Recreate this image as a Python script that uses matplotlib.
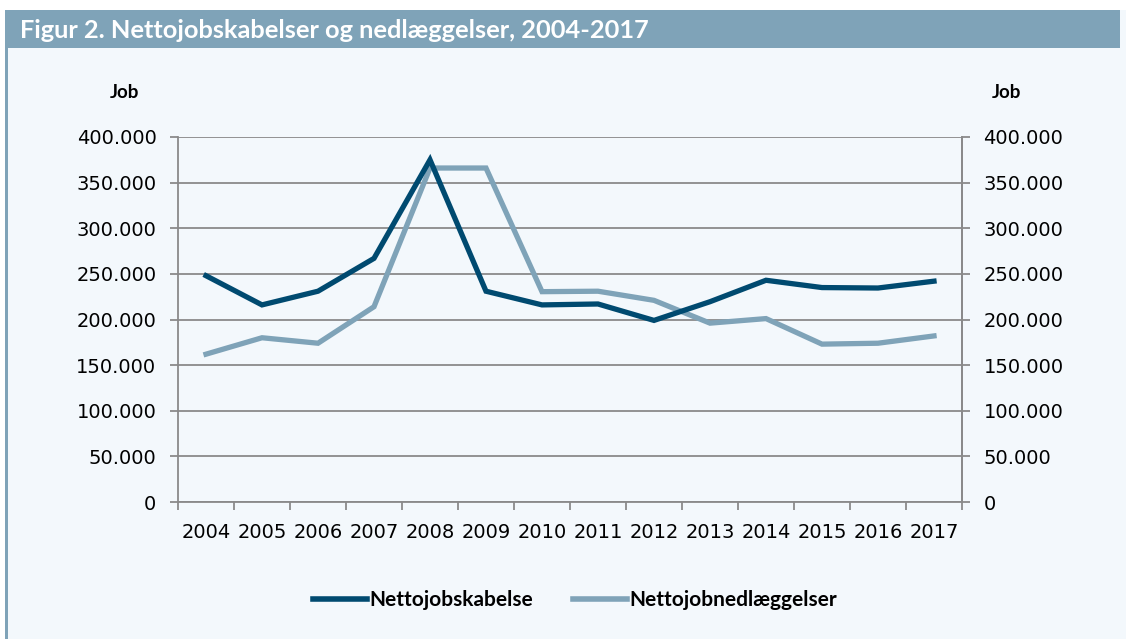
import numpy as np
import matplotlib.pyplot as plt
from matplotlib.patches import Rectangle
from matplotlib.lines import Line2D

years = ['2004', '2005', '2006', '2007', '2008', '2009', '2010',
         '2011', '2012', '2013', '2014', '2015', '2016', '2017']
skabelse = [248000, 216000, 231000, 267000, 375000, 231000, 216000,
            217000, 199000, 219500, 243000, 235000, 234500, 242000]
nedlaeggelser = [162000, 180000, 174000, 214000, 366000, 366000, 230500,
                 231000, 221000, 196000, 201000, 173000, 174000, 182000]
yticks = [0, 50000, 100000, 150000, 200000, 250000, 300000, 350000, 400000]
ytick_labels = ['0', '50.000', '100.000', '150.000', '200.000', '250.000',
                '300.000', '350.000', '400.000']

dark = '#004a70'
light = '#7fa3b8'
bg = '#f3f8fc'
grid = '#8a8a8a'

plt.rcParams['font.family'] = ['Lato', 'DejaVu Sans']
tick_font = 'DejaVu Sans'

fig = plt.figure(figsize=(11.26, 6.39), dpi=100)
fig.patch.set_facecolor('white')

# panel background, title bar and left border (behind the axes)
fig.patches.append(Rectangle((5 / 1126, 0), 1 - 5 / 1126, 1 - 10 / 639,
                             transform=fig.transFigure, facecolor=bg,
                             edgecolor='none', zorder=-10))
fig.patches.append(Rectangle((5 / 1126, 1 - 48 / 639), 1 - 11 / 1126, 38 / 639,
                             transform=fig.transFigure, facecolor=light,
                             edgecolor='none', zorder=-9))
fig.patches.append(Rectangle((5 / 1126, 0), 3 / 1126, 1 - 48 / 639,
                             transform=fig.transFigure, facecolor=light,
                             edgecolor='none', zorder=-9))
fig.text(20 / 1126, 1 - 30 / 639, 'Figur 2. Nettojobskabelser og nedlæggelser, 2004-2017',
         color='white', fontsize=18.3, fontweight='bold', va='center', ha='left')

ax = fig.add_axes([178 / 1126, 1 - 502 / 639, 784 / 1126, 365 / 639])
ax.set_facecolor('none')
x = np.arange(len(years))
ax.plot(x, skabelse, color=dark, lw=3.8, solid_joinstyle='miter', zorder=3)
ax.plot(x, nedlaeggelser, color=light, lw=3.8, solid_joinstyle='miter', zorder=2)

ax.set_xlim(-0.5, len(years) - 0.5)
ax.set_ylim(0, 400000)
ax.set_yticks(yticks)
ax.set_yticklabels(ytick_labels, family=tick_font)
ax.set_xticks(x)
ax.set_xticklabels(years, family=tick_font)
ax.set_xticks(np.arange(-0.5, len(years)), minor=True)
ax.tick_params(axis='x', which='major', length=0, pad=15, labelsize=14)
ax.tick_params(axis='x', which='minor', length=6, color=grid, width=1.3)
ax.tick_params(axis='y', length=6, color=grid, width=1.3, labelsize=14, pad=9.5)
ax.yaxis.grid(True, color=grid, lw=1.3)
ax.set_axisbelow(True)
ax.spines['top'].set_visible(False)
for s in ['left', 'right', 'bottom']:
    ax.spines[s].set_color(grid)
    ax.spines[s].set_linewidth(1.3)

ax2 = ax.twinx()
ax2.set_ylim(0, 400000)
ax2.set_yticks(yticks)
ax2.set_yticklabels(ytick_labels, family=tick_font)
ax2.tick_params(axis='y', length=6, color=grid, width=1.3, labelsize=14, pad=9.5)
for s in ['top', 'left', 'bottom']:
    ax2.spines[s].set_visible(False)
ax2.spines['right'].set_color(grid)
ax2.spines['right'].set_linewidth(1.3)

fig.text(125 / 1126, 1 - 92 / 639, 'Job', fontsize=13.5, fontweight='bold',
         ha='center', va='center')
fig.text(1006 / 1126, 1 - 92 / 639, 'Job', fontsize=13.5, fontweight='bold',
         ha='center', va='center')

handles = [Line2D([], [], color=dark, lw=4), Line2D([], [], color=light, lw=4)]
fig.legend(handles, ['Nettojobskabelse', 'Nettojobnedlæggelser'],
           loc='center', bbox_to_anchor=(575 / 1126, 1 - 600 / 639), ncol=2,
           frameon=False, handlelength=2.6, handletextpad=0.1, columnspacing=1.9,
           prop={'weight': 'bold', 'size': 15})

fig.savefig('out.png', dpi=100, facecolor='white')
